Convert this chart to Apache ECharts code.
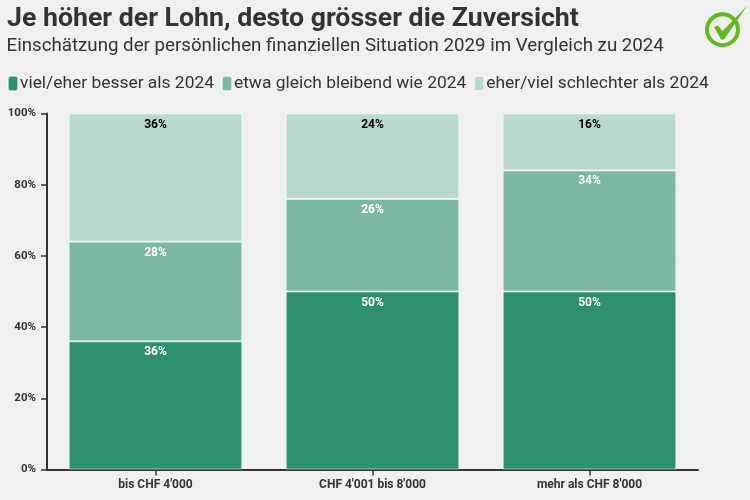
<!DOCTYPE html>
<html><head><meta charset="utf-8">
<style>html,body{margin:0;padding:0;background:#f0f0f0}#c{width:750px;height:500px}</style>
<script src="https://cdn.jsdelivr.net/npm/echarts@6/dist/echarts.min.js"></script></head>
<body><div id="c"></div>
<script>
const categories = ["bis CHF 4'000", "CHF 4'001 bis 8'000", "mehr als CHF 8'000"];
const seriesNames = ["viel/eher besser als 2024", "etwa gleich bleibend wie 2024", "eher/viel schlechter als 2024"];
const better = [36, 50, 50];
const same = [28, 26, 34];
const worse = [36, 24, 16];
const titleText = "Je höher der Lohn, desto grösser die Zuversicht";
const subtitleText = "Einschätzung der persönlichen finanziellen Situation 2029 im Vergleich zu 2024";
const F = "Roboto";
const chart = echarts.init(document.getElementById('c'), null, {renderer:'canvas'});
function s(name, data, color, labelColor){
  return {name, type:'bar', stack:'a', data, barWidth:'80%',
    itemStyle:{color, borderColor:'rgba(255,255,255,0.55)', borderWidth:1},
    label:{show:true, position:'insideTop', distance:5, formatter:'{c}%', color:labelColor, fontFamily:F, fontWeight:'bold', fontSize:12}};
}
chart.setOption({
  animation:false,
  backgroundColor:'#f0f0f0',
  title:[
    {text:titleText, left:7, top:6, padding:0, textStyle:{fontFamily:F, fontWeight:'bold', fontSize:26.7, color:'#333333'}},
    {text:subtitleText, left:6.5, top:37, padding:0, textStyle:{fontFamily:F, fontWeight:'normal', fontSize:18.72, color:'#333333'}}
  ],
  legend:{left:7, top:75, padding:0, itemWidth:10, itemHeight:15, itemGap:7, icon:'roundRect',
    data:[{name:seriesNames[0]},{name:seriesNames[1]},{name:seriesNames[2]}],
    textStyle:{fontFamily:F, fontSize:17.4, color:'#333333', padding:[0,0,0,-3]}},
  grid:{left:47, right:52, top:113.5, bottom:30.5},
  xAxis:{type:'category', data:categories,
    axisLine:{show:true, lineStyle:{color:'#333333', width:2}},
    axisTick:{show:true, alignWithLabel:true, inside:false, length:6, lineStyle:{color:'#333333', width:1.5}},
    axisLabel:{fontFamily:F, fontWeight:'bold', fontSize:12, color:'#333333', margin:9}},
  yAxis:{type:'value', min:0, max:100, interval:20,
    axisLine:{show:true, lineStyle:{color:'#333333', width:2}},
    axisTick:{show:true, inside:false, length:6, lineStyle:{color:'#333333', width:1.5}},
    splitLine:{show:true, lineStyle:{color:'#eeeeee', width:1}},
    axisLabel:{fontFamily:F, fontWeight:'bold', fontSize:11.5, color:'#333333', margin:11, padding:[2,0,0,0], formatter:'{value}%'}},
  series:[
    s(seriesNames[0], better, '#2d906a', '#ffffff'),
    s(seriesNames[1], same, '#7bb9a2', '#ffffff'),
    s(seriesNames[2], worse, '#b9dacc', '#000000')
  ],
  graphic:[
    {type:'circle', shape:{cx:722.5, cy:29.7, r:15.5}, style:{fill:'none', stroke:'#63b81e', lineWidth:4}},
    {type:'polygon', shape:{points:[[714,27],[718,25.5],[722.5,31],[747,6],[724,39.5],[721,39.5]]}, style:{fill:'#63b81e'}}
  ]
});
</script></body></html>
